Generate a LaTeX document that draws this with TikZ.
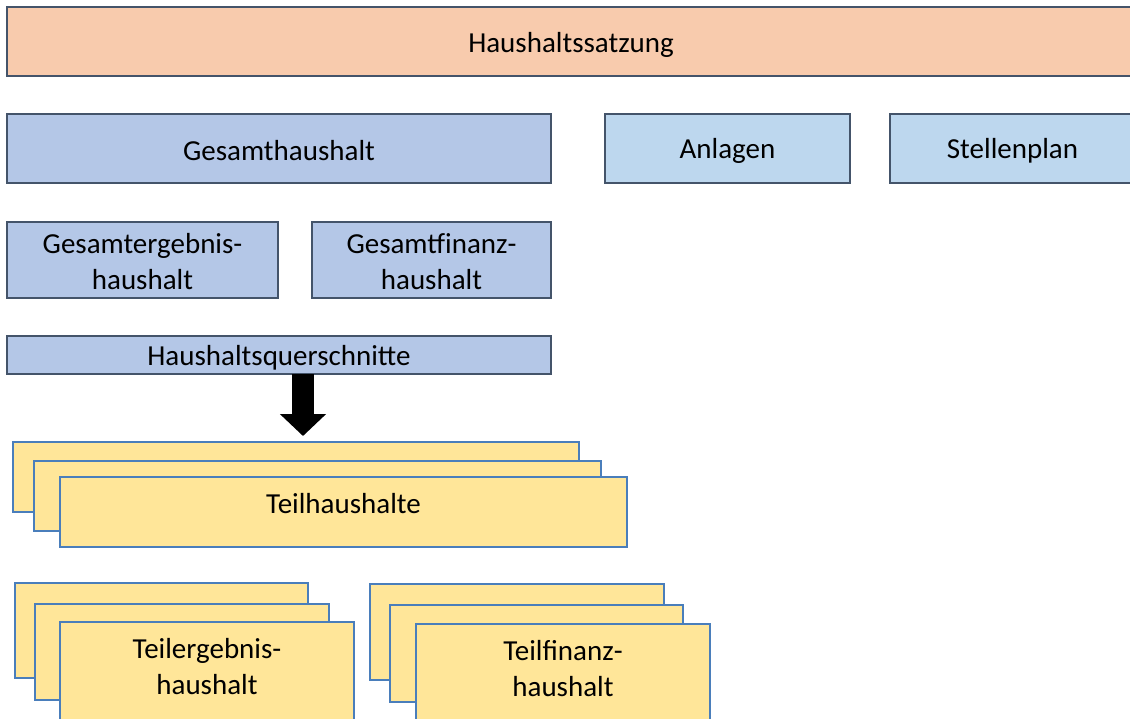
\documentclass[tikz,border=0pt]{standalone}
\usepackage{fontspec}
\setmainfont{Carlito}
\usetikzlibrary{arrows.meta}
\definecolor{rahmen}{HTML}{44546A}
\definecolor{satzungfarbe}{HTML}{F8CBAD}
\definecolor{gesamtblau}{HTML}{B4C7E7}
\definecolor{hellblau}{HTML}{BDD7EE}
\definecolor{teilgelb}{HTML}{FFE699}
\definecolor{teilrand}{HTML}{4A7EBB}

\begin{document}
\begin{tikzpicture} [x=1pt, y=-1pt,
  box/.style={rectangle, draw=rahmen, line width=2pt, anchor=north west, inner sep=0pt, outer sep=0pt, align=center, font=\fontsize{29}{36}\selectfont},
  satzung/.style={box, fill=satzungfarbe},
  gesamt/.style={box, fill=gesamtblau},
  anlage/.style={box, fill=hellblau},
  teil/.style={box, draw=teilrand, line width=1.5pt, fill=teilgelb}]

\useasboundingbox (0,0) rectangle (1130,718);
\clip (0,0) rectangle (1130,718);

\node[satzung, minimum width=1128pt, minimum height=69pt, text height=26pt] (satzung) at (7,7) {Haushaltssatzung};

\node[gesamt, minimum width=544pt, minimum height=69pt, text height=25pt] (gesamt) at (7,114) {Gesamthaushalt};
\node[anlage, minimum width=245pt, minimum height=69pt, text height=25pt] (anlagen) at (605,114) {Anlagen};
\node[anlage, minimum width=245pt, minimum height=69pt, text height=25pt] (stellen) at (890,114) {Stellenplan};

\node[gesamt, minimum width=271pt, minimum height=76pt, text height=60pt] (ergebnis) at (7,222) {Gesamtergebnis-\\haushalt};
\node[gesamt, minimum width=239pt, minimum height=76pt, text height=60pt] (finanz) at (312,222) {Gesamtfinanz-\\haushalt};
\node[gesamt, minimum width=544pt, minimum height=38pt, text height=25pt] (quer) at (7,336) {Haushaltsquerschnitte};

% Teilhaushalte, drei Blaetter
\node[teil, minimum width=566pt, minimum height=70pt] (teil3) at (13,442) {};
\node[teil, minimum width=567pt, minimum height=70pt] (teil2) at (34,461) {};
\node[teil, minimum width=567pt, minimum height=70pt, text height=25pt, text depth=23pt] (teil) at (60,477) {Teilhaushalte};

\node[teil, minimum width=293pt, minimum height=95pt] (erg3) at (15,583) {};
\node[teil, minimum width=294pt, minimum height=96pt] (erg2) at (35,604) {};
\node[teil, minimum width=294pt, minimum height=98pt, text depth=10pt] (erg) at (60,622) {Teilergebnis-\\haushalt};

\node[teil, minimum width=294pt, minimum height=96pt] (fin3) at (370,584) {};
\node[teil, minimum width=293pt, minimum height=97pt] (fin2) at (390,605) {};
\node[teil, minimum width=294pt, minimum height=98pt, text depth=10pt] (fin) at (416,624) {Teilfinanz-\\haushalt};

\coordinate (spitze) at (303,436);
\draw[black, line width=22pt, -{Triangle[length=22pt, width=45pt]}] (quer.south -| spitze) -- (spitze);

\end{tikzpicture}
\end{document}
